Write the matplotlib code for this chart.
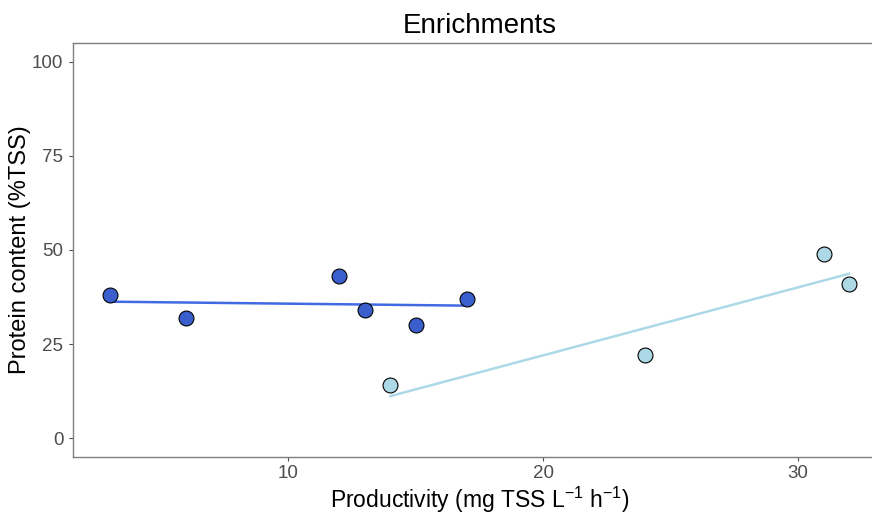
import numpy as np
import matplotlib
matplotlib.use("Agg")
import matplotlib.pyplot as plt

plt.rcParams['font.family'] = ['Liberation Sans', 'DejaVu Sans']
plt.rcParams['mathtext.fontset'] = 'custom'
plt.rcParams['mathtext.rm'] = 'Liberation Sans'

# Data
dark_x = [3, 6, 12, 13, 15, 17]
dark_y = [38, 32, 43, 34, 30, 37]
light_x = [14, 24, 31, 32]
light_y = [14, 22, 49, 41]

DARK = "#3A5FCD"
LIGHT = "#ADD8E6"
GREY = "#4D4D4D"

fig = plt.figure(figsize=(8.72, 5.17), dpi=100)
ax = fig.add_axes([73 / 872, 60 / 517, 813 / 872, 414 / 517])

for xs, ys, line_c, fill_c in [(dark_x, dark_y, "#4169E1", DARK),
                               (light_x, light_y, LIGHT, LIGHT)]:
    k, b = np.polyfit(xs, ys, 1)
    xx = np.array([min(xs), max(xs)])
    ax.plot(xx, k * xx + b, color=line_c, linewidth=1.8, zorder=2)
    ax.scatter(xs, ys, s=115, c=fill_c, edgecolors="black", linewidths=0.8, zorder=3)

ax.set_xlim(1.55, 33.45)
ax.set_ylim(-5, 105)
ax.set_xticks([10, 20, 30])
ax.set_yticks([0, 25, 50, 75, 100])
ax.tick_params(colors=GREY, labelsize=13.5, length=3, width=0.8, pad=3)
ax.tick_params(axis='y', pad=4)
for sp in ax.spines.values():
    sp.set_color("#7F7F7F")
    sp.set_linewidth(1.0)

ax.set_title("Enrichments", fontsize=20, pad=7)
ax.set_xlabel(r"Productivity (mg TSS L$^{-1}$ h$^{-1}$)", fontsize=16.5, labelpad=2)
ax.set_ylabel("Protein content (%TSS)", fontsize=17, labelpad=1)

fig.savefig("out.png", dpi=100)
